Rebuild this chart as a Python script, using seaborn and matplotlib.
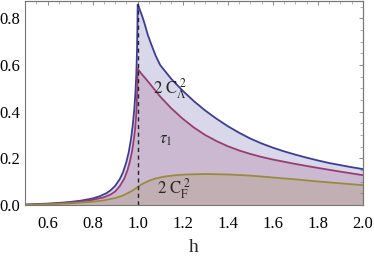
import numpy as np
import pandas as pd
import seaborn as sns
import matplotlib
matplotlib.use('Agg')
import matplotlib.pyplot as plt
from matplotlib.ticker import MultipleLocator

# curva 2 C_Lambda^2 (azul)
h_ca = [0.5, 0.55, 0.6, 0.65, 0.7, 0.75, 0.8, 0.83, 0.86, 0.88, 0.9, 0.92, 0.935, 0.95, 0.96,
        0.97, 0.978, 0.985, 0.99, 0.994, 0.997, 0.999, 1.0,
        1.005, 1.011, 1.02, 1.03, 1.045, 1.06, 1.08, 1.1, 1.15, 1.2, 1.25, 1.3,
        1.35, 1.4, 1.45, 1.5, 1.55, 1.6, 1.65, 1.7, 1.75, 1.8, 1.85, 1.9, 1.95, 2.0]
ca = [0.002, 0.004, 0.006, 0.009, 0.013, 0.019, 0.028, 0.037, 0.05, 0.063, 0.082, 0.11, 0.14,
      0.185, 0.225, 0.28, 0.34, 0.41, 0.48, 0.56, 0.66, 0.77, 0.86,
      0.85, 0.834, 0.81, 0.78, 0.73, 0.69, 0.64, 0.6, 0.54, 0.49, 0.445, 0.405,
      0.37, 0.338, 0.31, 0.285, 0.264, 0.246, 0.23, 0.216, 0.203, 0.191, 0.18, 0.171, 0.162, 0.154]

# curva tau_1 (magenta)
h_tau = [0.5, 0.6, 0.7, 0.75, 0.8, 0.85, 0.88, 0.9, 0.92, 0.94, 0.955, 0.965, 0.975, 0.982,
         0.988, 0.993, 0.996, 0.998, 1.0,
         1.005, 1.015, 1.03, 1.05, 1.075, 1.1, 1.15, 1.2, 1.25, 1.3, 1.35, 1.4, 1.45, 1.5,
         1.55, 1.6, 1.7, 1.8, 1.9, 2.0]
tau = [0.001, 0.004, 0.01, 0.015, 0.022, 0.033, 0.045, 0.058, 0.08, 0.112, 0.15, 0.185, 0.23,
       0.275, 0.32, 0.38, 0.43, 0.49, 0.585,
       0.578, 0.565, 0.548, 0.525, 0.495, 0.465, 0.414, 0.37, 0.332, 0.3, 0.274, 0.252, 0.234,
       0.219, 0.206, 0.195, 0.176, 0.159, 0.143, 0.128]

# curva 2 C_F^2 (dorada)
h_cf = [0.5, 0.6, 0.7, 0.8, 0.85, 0.9, 0.93, 0.95, 0.97, 0.985, 1.0, 1.02, 1.05, 1.08, 1.12,
        1.17, 1.22, 1.3, 1.4, 1.5, 1.6, 1.7, 1.8, 1.9, 2.0]
cf = [0.0, 0.003, 0.007, 0.014, 0.02, 0.03, 0.039, 0.048, 0.058, 0.067, 0.077, 0.09, 0.104,
      0.114, 0.122, 0.128, 0.131, 0.133, 0.131, 0.126, 0.118, 0.11, 0.101, 0.093, 0.085]

h_crit = 1.0

azul = (0.24, 0.24, 0.6)
magenta = (0.6, 0.24, 0.442)
dorado = (0.6, 0.547, 0.24)

sns.set_style('white')
plt.rcParams['font.family'] = 'serif'
plt.rcParams['font.serif'] = ['Liberation Serif', 'DejaVu Serif']
plt.rcParams['mathtext.fontset'] = 'stix'

fig = plt.figure(figsize=(3.74, 2.62), dpi=100)
ax = fig.add_axes([25/374, 1 - 205/262, 338/374, 204/262])

for hh, yy, col in [(h_ca, ca, azul), (h_tau, tau, magenta), (h_cf, cf, dorado)]:
    ax.fill_between(hh, 0, yy, color=col, alpha=0.2, lw=0)
for hh, yy, col in [(h_ca, ca, azul), (h_tau, tau, magenta), (h_cf, cf, dorado)]:
    sns.lineplot(x=hh, y=yy, color=col, lw=1.3, ax=ax)

ax.plot([h_crit, h_crit], [0, max(ca)], color='#222222', lw=1.0, ls=(0, (3, 2.5)))

ax.text(1.145, 0.50, r'$2\ \mathrm{C}_{\mathit{\Lambda}}^{\ 2}$', fontsize=12, ha='center', va='center')
ax.text(1.125, 0.28, r'$\tau_1$', fontsize=12, ha='center', va='center')
ax.text(1.16, 0.07, r'$2\ \mathrm{C}_{\mathrm{F}}^{\ 2}$', fontsize=12, ha='center', va='center')

ax.set_xlim(0.5, 2.0)
ax.set_ylim(0, 0.875)
ax.set_xticks([0.6, 0.8, 1.0, 1.2, 1.4, 1.6, 1.8, 2.0])
ax.xaxis.set_minor_locator(MultipleLocator(0.05))
ax.yaxis.set_major_locator(MultipleLocator(0.2))
ax.yaxis.set_minor_locator(MultipleLocator(0.05))
ax.xaxis.set_major_formatter(plt.FuncFormatter(lambda v, p: f'{v:.1f}'))
ax.yaxis.set_major_formatter(plt.FuncFormatter(lambda v, p: f'{v:.1f}'))
ax.tick_params(which='both', direction='out', colors='#777777',
               labelcolor='black', labelsize=12, width=0.6)
ax.tick_params(which='major', length=3)
ax.tick_params(which='minor', length=2, width=0.4)
ax.tick_params(axis='x', pad=5)
ax.tick_params(axis='y', pad=0.5)

# marcas interiores arriba y a la derecha
top = ax.secondary_xaxis('top')
top.set_xticks([0.6, 0.8, 1.0, 1.2, 1.4, 1.6, 1.8, 2.0])
top.xaxis.set_minor_locator(MultipleLocator(0.05))
top.tick_params(which='both', direction='in', labeltop=False, colors='#777777', width=0.6, length=3)
top.tick_params(which='minor', length=2, width=0.4)
right = ax.secondary_yaxis('right')
right.yaxis.set_major_locator(MultipleLocator(0.2))
right.yaxis.set_minor_locator(MultipleLocator(0.05))
right.tick_params(which='both', direction='in', labelright=False, colors='#777777', width=0.6, length=3)
right.tick_params(which='minor', length=2, width=0.4)
for a in (ax, top, right):
    for s in a.spines.values():
        s.set_color('#777777')
        s.set_linewidth(0.8)

ax.set_xlabel('h', fontsize=14, labelpad=5)

fig.savefig('out.png', dpi=100)
